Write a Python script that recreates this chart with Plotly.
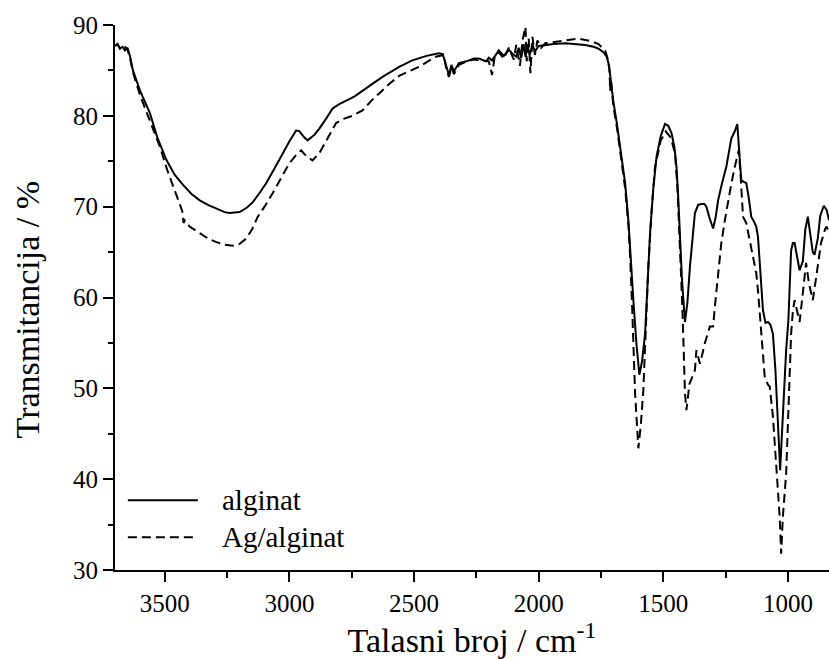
import plotly.graph_objects as go

# alginat (solid)
wn_alg = [3700, 3690, 3680, 3670, 3660, 3650, 3640, 3628, 3600, 3560, 3530, 3493, 3460, 3427, 3393, 3360,
          3327, 3293, 3260, 3240, 3200, 3170, 3147, 3120, 3093, 3060, 3027, 3000, 2973, 2960, 2940, 2927,
          2900, 2880, 2850, 2827, 2800, 2773, 2740, 2720, 2690, 2653, 2620, 2560, 2507, 2450, 2400, 2385,
          2370, 2360, 2350, 2340, 2320, 2290, 2260, 2240, 2210, 2200, 2187, 2175, 2160, 2140, 2120, 2107,
          2090, 2080, 2070, 2060, 2053, 2045, 2035, 2025, 2015, 2000, 1973, 1940, 1893, 1850, 1813, 1780,
          1760, 1740, 1727, 1718, 1713, 1700, 1687, 1670, 1653, 1640, 1633, 1620, 1608, 1596, 1585, 1573,
          1563, 1553, 1540, 1527, 1510, 1493, 1480, 1467, 1455, 1447, 1440, 1433, 1425, 1413, 1403, 1393,
          1383, 1373, 1360, 1347, 1335, 1327, 1315, 1300, 1290, 1280, 1265, 1247, 1227, 1213, 1203, 1195,
          1187, 1175, 1167, 1157, 1147, 1135, 1127, 1120, 1110, 1100, 1090, 1080, 1070, 1060, 1050, 1043,
          1037, 1031, 1020, 1007, 998, 993, 987, 980, 973, 963, 953, 940, 930, 920, 910, 900,
          893, 880, 870, 856, 844, 835]
t_alg = [87.7, 87.9, 87.4, 87.6, 87.2, 87.5, 86.6, 85.0, 82.8, 80.3, 77.6, 75.1, 73.5, 72.4, 71.4, 70.7,
         70.2, 69.8, 69.4, 69.3, 69.4, 69.9, 70.5, 71.5, 72.6, 74.2, 75.9, 77.2, 78.4, 78.3, 77.6, 77.3,
         77.9, 78.6, 79.8, 80.8, 81.3, 81.7, 82.1, 82.5, 83.1, 83.8, 84.4, 85.4, 86.1, 86.6, 86.9, 86.8,
         85.4, 84.5, 85.6, 84.9, 85.8, 86.0, 86.3, 86.3, 86.0, 86.4, 86.1, 86.6, 87.2, 86.6, 87.3, 86.9,
         86.5, 87.5, 86.4, 87.9, 86.5, 87.6, 86.8, 87.8, 87.1, 87.7, 87.8, 87.9, 88.0, 87.9, 87.8, 87.6,
         87.4, 87.0, 86.5, 85.6, 84.3, 81.5, 79.3, 76.0, 72.6, 68.5, 65.2, 59.7, 55.0, 51.5, 53.0, 56.0,
         61.5, 67.1, 72.0, 75.5, 77.8, 79.1, 78.9, 78.1, 76.5, 74.4, 71.0, 67.1, 62.0, 57.3, 59.5, 63.4,
         66.8, 69.3, 70.2, 70.3, 70.3, 70.0, 68.8, 67.6, 68.8, 70.7, 72.5, 74.4, 77.5, 78.3, 79.1, 76.0,
         72.9, 72.7, 72.6, 71.0, 68.9, 68.3, 67.8, 66.7, 62.0, 58.6, 57.2, 57.3, 57.0, 56.0, 52.0, 48.7,
         44.5, 41.0, 47.5, 54.2, 57.5, 60.5, 65.2, 66.0, 66.0, 64.5, 63.0, 64.0, 67.5, 68.9, 67.0, 65.0,
         64.7, 66.5, 69.0, 70.1, 69.6, 68.5]

# Ag/alginat (dashed)
wn_ag = [3700, 3690, 3680, 3670, 3660, 3650, 3640, 3628, 3600, 3560, 3520, 3490, 3453, 3430, 3425, 3420,
         3400, 3360, 3327, 3293, 3260, 3227, 3200, 3173, 3150, 3127, 3100, 3067, 3033, 3000, 2970, 2953,
         2930, 2907, 2880, 2853, 2830, 2813, 2780, 2747, 2707, 2670, 2627, 2600, 2560, 2480, 2413, 2380,
         2370, 2360, 2350, 2340, 2320, 2290, 2260, 2240, 2200, 2187, 2175, 2160, 2140, 2120, 2100, 2090,
         2075, 2065, 2053, 2048, 2040, 2033, 2025, 2015, 2005, 1990, 1973, 1930, 1893, 1840, 1787, 1760,
         1733, 1722, 1716, 1713, 1710, 1700, 1687, 1670, 1653, 1640, 1633, 1625, 1613, 1600, 1590, 1580,
         1570, 1560, 1547, 1533, 1510, 1490, 1470, 1453, 1443, 1435, 1425, 1420, 1413, 1407, 1395, 1380,
         1373, 1367, 1360, 1353, 1343, 1333, 1313, 1300, 1293, 1280, 1267, 1253, 1240, 1227, 1213, 1197,
         1190, 1187, 1180, 1167, 1157, 1147, 1135, 1127, 1120, 1113, 1107, 1093, 1080, 1073, 1060, 1047,
         1033, 1027, 1020, 1007, 993, 987, 980, 973, 963, 953, 940, 927, 915, 900, 885, 867,
         850, 844, 835]
t_ag = [87.7, 87.9, 87.4, 87.7, 87.6, 87.3, 86.4, 84.8, 82.3, 79.5, 76.6, 74.0, 71.1, 69.5, 68.2, 68.5,
        67.8, 67.1, 66.5, 66.1, 65.8, 65.7, 65.9, 66.5, 67.5, 68.9, 70.0, 71.5, 73.1, 74.8, 75.8, 76.2,
        75.5, 75.1, 75.9, 77.2, 78.4, 79.2, 79.7, 80.0, 80.6, 81.7, 82.8, 83.5, 84.4, 85.4, 86.5, 86.7,
        85.0, 84.3, 85.3, 84.6, 85.6, 86.0, 86.2, 86.1, 86.0, 84.5, 86.8, 87.0, 86.3, 87.5, 86.2, 87.8,
        85.5, 88.3, 89.8, 86.0, 88.5, 84.7, 88.7, 86.7, 88.3, 87.5, 88.0, 88.2, 88.3, 88.5, 88.2, 87.9,
        87.2, 86.2, 85.0, 82.7, 84.0, 81.0, 78.9, 75.5, 72.0, 68.0, 64.5, 59.0, 49.4, 43.4, 46.0, 49.8,
        56.0, 63.4, 69.5, 74.4, 77.3, 78.3, 77.6, 75.9, 72.0, 67.1, 60.0, 56.0, 49.5, 47.6, 50.5, 51.5,
        52.0, 54.2, 53.5, 52.7, 53.8, 55.0, 56.8, 56.8, 59.0, 62.5, 66.0, 68.5, 70.7, 72.5, 74.4, 76.2,
        73.5, 72.2, 68.9, 68.2, 66.8, 65.2, 63.5, 62.7, 60.8, 58.5, 56.0, 51.3, 50.4, 50.2, 46.9, 42.1,
        35.9, 31.8, 35.9, 40.6, 50.5, 56.0, 58.5, 59.7, 58.5, 57.3, 60.5, 63.8, 61.5, 59.7, 62.5, 66.0,
        67.6, 67.8, 67.0]

series_names = ["alginat", "Ag/alginat"]
series_dash = ["solid", "9px,5px"]
x_ticks = [3500, 3000, 2500, 2000, 1500, 1000]
y_ticks = [30, 40, 50, 60, 70, 80, 90]

FONT = "Liberation Serif, Times New Roman, serif"

fig = go.Figure()
for wn, t, nm, ds in zip([wn_alg, wn_ag], [t_alg, t_ag], series_names, series_dash):
    fig.add_trace(go.Scatter(x=wn, y=t, mode="lines", name=nm,
                             line=dict(color="black", width=2, dash=ds)))

# legend drawn as long line samples + labels (like the original)
leg_y = [0.128, 0.060]
for nm, ds, ly in zip(series_names, series_dash, leg_y):
    fig.add_shape(type="line", xref="paper", yref="paper", x0=0.018, x1=0.116, y0=ly, y1=ly,
                  line=dict(color="black", width=2, dash=ds))
    fig.add_annotation(xref="paper", yref="paper", x=0.147, y=ly, text=nm, showarrow=False,
                       xanchor="left", yanchor="middle", font=dict(size=29, family=FONT, color="black"))

# y-axis title
fig.add_annotation(xref="paper", yref="paper", x=-0.122, y=0.478, text="Transmitancija / %",
                   textangle=-90, showarrow=False, xanchor="center", yanchor="middle",
                   font=dict(size=34, family=FONT, color="black"))

fig.update_layout(
    width=829, height=659,
    margin=dict(l=115, r=0, t=25, b=89),
    plot_bgcolor="white", paper_bgcolor="white",
    font=dict(family=FONT, color="black", size=25),
    showlegend=False,
)
fig.update_xaxes(
    range=[3700, 835], tickvals=x_ticks, showgrid=False, zeroline=False,
    showline=True, linecolor="black", linewidth=2,
    ticks="outside", ticklen=10, tickwidth=1.5, tickcolor="black",
    minor=dict(dtick=250, tick0=0, ticks="outside", ticklen=6, tickwidth=1.5, tickcolor="black"),
    tickfont=dict(size=25, family=FONT),
    title=dict(text="Talasni broj / cm<sup>-1</sup>", font=dict(size=34, family=FONT), standoff=3),
)
fig.update_yaxes(
    range=[30, 90], tickvals=y_ticks, showgrid=False, zeroline=False,
    showline=True, linecolor="black", linewidth=2,
    ticks="outside", ticklen=10, tickwidth=1.5, tickcolor="black",
    minor=dict(dtick=5, tick0=0, ticks="outside", ticklen=5, tickwidth=1.5, tickcolor="black"),
    tickfont=dict(size=25, family=FONT),
)

fig.write_html("out.html")
